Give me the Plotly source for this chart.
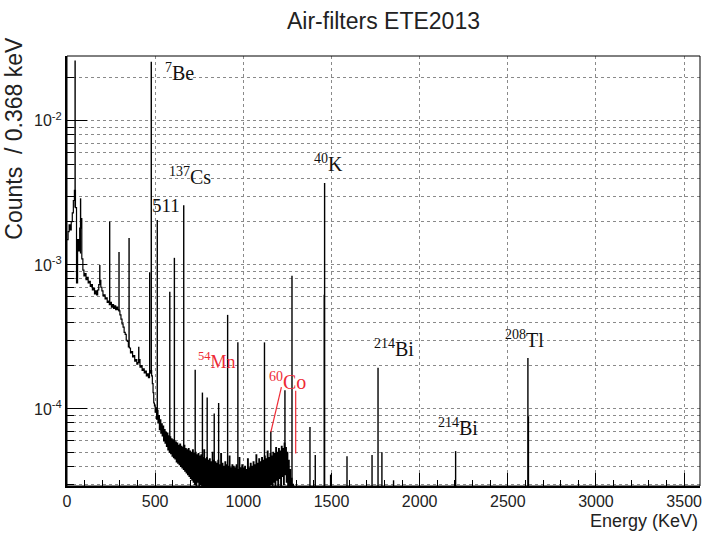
import numpy as np
import plotly.graph_objects as go

# ---------------- data ----------------
# continuum below 480 keV, one value every 6 keV (counts / 0.368 keV)
low_energy = list(range(0, 480, 6))
low_counts = [
    1.5e-3, 1.7e-3, 1.9e-3, 1.75e-3, 2.0e-3, 2.3e-3, 2.8e-3, 3.3e-3, 2.5e-3, 7.5e-4,
    1.5e-3, 1.25e-3, 1.8e-3, 2.1e-3, 1.1e-3, 9.2e-4, 8.4e-4, 8.7e-4, 7.9e-4, 8.2e-4,
    7.5e-4, 7.7e-4, 7.1e-4, 7.3e-4, 6.7e-4, 6.9e-4, 6.3e-4, 6.6e-4, 6.2e-4, 6.7e-4,
    7.3e-4, 7.8e-4, 7.0e-4, 6.6e-4, 6.1e-4, 6.2e-4, 5.8e-4, 5.9e-4, 5.5e-4, 5.6e-4,
    5.3e-4, 5.5e-4, 5.1e-4, 5.3e-4, 5.0e-4, 5.2e-4, 4.9e-4, 5.1e-4, 4.9e-4, 4.8e-4,
    4.5e-4, 4.2e-4, 3.9e-4, 3.7e-4, 3.4e-4, 3.3e-4, 3.0e-4, 2.95e-4, 2.7e-4, 2.65e-4,
    2.45e-4, 2.5e-4, 2.3e-4, 2.35e-4, 2.15e-4, 2.2e-4, 2.05e-4, 2.1e-4, 2.2e-4, 1.95e-4,
    2.0e-4, 1.85e-4, 1.9e-4, 1.78e-4, 1.83e-4, 1.7e-4, 1.75e-4, 1.65e-4, 1.78e-4, 1.85e-4,
]
# noisy continuum 480-1320 keV, one value every 4 keV, in units of 1e-5
mid_energy = list(range(480, 1320, 4))
mid_counts_e5 = [
    17, 15, 13, 11, 10.5, 9.5, 10.2, 8.5, 9.8, 8.0,
    9.0, 7.2, 8.4, 6.8, 7.9, 6.5, 7.6, 6.0, 7.2, 5.8,
    6.9, 5.5, 6.8, 5.2, 6.5, 5.0, 6.4, 4.9, 6.2, 4.7,
    6.1, 4.6, 6.0, 4.5, 5.9, 4.3, 5.8, 4.2, 5.6, 4.1,
    5.7, 4.0, 5.5, 3.9, 5.4, 3.8, 5.6, 3.7, 5.3, 3.6,
    5.2, 3.5, 5.3, 3.4, 5.1, 3.3, 5.0, 3.2, 5.2, 3.1,
    4.9, 3.0, 5.0, 2.8, 4.8, 3.1, 4.9, 2.6, 4.7, 3.0,
    4.8, 2.5, 4.6, 2.9, 5.2, 2.4, 4.5, 2.8, 4.6, 2.3,
    4.4, 2.7, 4.5, 2.2, 4.3, 2.6, 5.0, 2.1, 4.4, 2.5,
    4.3, 2.0, 4.2, 2.6, 4.4, 2.0, 4.1, 2.4, 4.9, 1.9,
    4.2, 2.5, 4.0, 1.8, 4.3, 2.3, 4.1, 1.9, 4.0, 2.4,
    4.7, 1.8, 3.9, 2.3, 4.1, 1.7, 4.0, 2.2, 3.9, 1.8,
    4.1, 2.3, 3.8, 1.7, 4.6, 2.2, 3.9, 1.6, 4.1, 2.2,
    3.9, 1.8, 4.0, 2.3, 3.8, 1.7, 4.5, 2.2, 3.9, 1.9,
    4.2, 2.4, 4.0, 1.9, 4.3, 2.5, 4.1, 2.0, 4.8, 2.6,
    4.2, 2.1, 4.5, 2.6, 4.3, 2.2, 4.6, 2.7, 4.4, 2.3,
    4.7, 2.8, 4.5, 2.4, 5.1, 2.9, 4.6, 2.5, 4.9, 3.0,
    4.7, 2.6, 5.0, 3.1, 4.9, 2.7, 5.4, 3.2, 5.0, 2.8,
    5.3, 3.3, 5.1, 2.9, 5.5, 3.4, 5.3, 3.0, 5.8, 3.5,
    5.4, 3.1, 5.0, 2.9, 4.4, 2.6, 3.8, 2.3, 3.3, 2.0,
    3.0, 1.8, 2.8, 1.5, 2.6, 1.2, 2.4, 1.0, 0.8, 0.5,
]
# above 1320 keV the continuum is below the plotted range
tail_energy = [1320, 3590]
tail_counts = [1e-6, 1e-6]

# gamma lines: energy (keV), top of the line, level it rises from
peak_energy = [46, 77, 186, 242, 295, 352, 407, 469, 478, 512,
               583, 609, 662, 727, 768, 795, 835, 860, 911, 969,
               1120, 1156, 1236, 1276, 1378, 1408, 1459, 1461, 1495, 1588,
               1730, 1764, 1786, 1852, 2204, 2614, 2617]
peak_top = [2.62e-2, 2.9e-3, 1.0e-3, 2.0e-3, 1.23e-3, 1.54e-3, 2.7e-4, 8.9e-4, 2.57e-2, 2.05e-3,
            6.5e-4, 1.12e-3, 2.6e-3, 1.87e-4, 1.3e-4, 1.2e-4, 9.3e-5, 1.1e-4, 4.5e-4, 2.9e-4,
            2.9e-4, 7.0e-5, 1.35e-4, 8.4e-4, 7.5e-5, 4.8e-5, 6.2e-4, 3.7e-3, 3.5e-5, 4.7e-5,
            4.8e-5, 1.93e-4, 5.0e-5, 3.2e-5, 5.1e-5, 2.26e-4, 8.9e-5]
peak_base = [2.5e-3, 1.2e-3, 7.5e-4, 5.4e-4, 4.8e-4, 2.7e-4, 2.1e-4, 1.75e-4, 1.8e-4, 9.0e-5,
             5.5e-5, 5.0e-5, 4.5e-5, 4.0e-5, 4.0e-5, 4.0e-5, 3.5e-5, 3.5e-5, 3.5e-5, 3.5e-5,
             3.5e-5, 3.5e-5, 4.0e-5, 3.0e-5, 1e-6, 1e-6, 1e-6, 1e-6, 1e-6, 1e-6,
             1e-6, 1e-6, 1e-6, 1e-6, 1e-6, 1e-6, 1e-6]

# isotope labels: text, energy of left edge, count level of centre, colour, size
label_text = ["<sup>7</sup>Be", "<sup>137</sup>Cs", "511", "<sup>40</sup>K",
              "<sup>214</sup>Bi", "<sup>214</sup>Bi", "<sup>208</sup>Tl",
              "<sup>54</sup>Mn", "<sup>60</sup>Co"]
label_energy = [542, 565, 469, 1389, 1728, 2095, 2473, 734, 1135]
label_count = [2.19e-2, 4.15e-3, 2.57e-3, 5.1e-3, 2.65e-4, 7.5e-5, 3.06e-4, 2.16e-4, 1.56e-4]
label_color = ["#111", "#111", "#111", "#111", "#111", "#111", "#111", "#ee2a35", "#ee2a35"]
label_size = [20, 20, 19, 20, 20, 20, 20, 18, 20]

# red pointer lines for 60Co (energy, counts)
co_pointer_energy = [1216, 1156]
co_pointer_count = [1.42e-4, 6.9e-5]
co_marker_energy = [1297, 1297]
co_marker_count = [1.34e-4, 4.9e-5]

x_range = [0, 3590]
y_range = [2.92e-5, 2.82e-2]

# ---------------- figure ----------------
energy = low_energy + mid_energy + tail_energy
counts = low_counts + [v * 1e-5 for v in mid_counts_e5] + tail_counts

fig = go.Figure()
fig.add_trace(go.Scatter(x=energy, y=counts, mode="lines",
                         line=dict(color="black", width=1.2, shape="hv"),
                         hoverinfo="skip"))

px_, py_ = [], []
for e, t, b in zip(peak_energy, peak_top, peak_base):
    px_ += [e, e, None]
    py_ += [b, t, None]
fig.add_trace(go.Scatter(x=px_, y=py_, mode="lines",
                         line=dict(color="black", width=1.4), hoverinfo="skip"))

for xs, ys in ((co_pointer_energy, co_pointer_count), (co_marker_energy, co_marker_count)):
    fig.add_trace(go.Scatter(x=xs, y=ys, mode="lines",
                             line=dict(color="#ee2a35", width=1.2), hoverinfo="skip"))

# dummy trace to carry the long decade ticks axis
fig.add_trace(go.Scatter(x=[], y=[], yaxis="y2", hoverinfo="skip"))

lo, hi = np.log10(y_range[0]), np.log10(y_range[1])
minor_vals, minor_text = [], []
for k in range(int(np.floor(lo)), int(np.ceil(hi)) + 1):
    for m in range(1, 10):
        v = m * 10.0 ** k
        if y_range[0] <= v <= y_range[1]:
            minor_vals.append(v)
            minor_text.append(f"10<sup>{k}</sup>" if m == 1 else "")
decades = [v for v, t in zip(minor_vals, minor_text) if t]

tick_font = dict(family="Liberation Sans, Arial, sans-serif", size=16, color="#222")
grid = dict(showgrid=True, gridcolor="#8a8a8a", griddash="dot", gridwidth=1)

fig.update_layout(
    width=711, height=533,
    margin=dict(l=67, r=9, t=56, b=47),
    paper_bgcolor="white", plot_bgcolor="white",
    showlegend=False,
    title=dict(text="Air-filters ETE2013", x=0.5, xref="paper", xanchor="center",
               y=1 - 21 / 533, yref="container", yanchor="middle",
               font=dict(family="Liberation Sans, Arial, sans-serif", size=23, color="#222")),
    xaxis=dict(range=x_range, tick0=0, dtick=500, ticks="inside", ticklen=13,
               tickcolor="black", tickwidth=1, tickfont=tick_font,
               showline=True, linecolor="black", linewidth=2, zeroline=False,
               minor=dict(dtick=100, ticks="inside", ticklen=6, tickcolor="black",
                          showgrid=False),
               **grid),
    yaxis=dict(type="log", range=[lo, hi], tickmode="array", tickvals=minor_vals,
               ticktext=minor_text, ticks="inside", ticklen=7, tickcolor="black",
               tickwidth=1, tickfont=tick_font, showline=True, linecolor="black",
               linewidth=2, zeroline=False, **grid),
    yaxis2=dict(type="log", range=[lo, hi], overlaying="y", side="left", anchor="x",
                tickmode="array", tickvals=decades, ticktext=[""] * len(decades),
                ticks="inside", ticklen=20, tickcolor="black", tickwidth=1,
                showgrid=False, showline=False, zeroline=False),
)

fig.add_shape(type="rect", xref="paper", yref="paper", x0=0, y0=0, x1=1, y1=1,
              line=dict(color="black", width=1), layer="above")

for t, e, c, col, s in zip(label_text, label_energy, label_count, label_color, label_size):
    fig.add_annotation(text=t, x=e, y=np.log10(c), xref="x", yref="y",
                       xanchor="left", yanchor="middle", showarrow=False,
                       font=dict(family="Liberation Serif, Times New Roman, serif",
                                 size=s, color=col))

fig.add_annotation(text="Counts  / 0.368 keV", textangle=-90, xref="paper", yref="paper",
                   x=(13 - 67) / 635, y=(486 - 35) / 430, xanchor="center", yanchor="top",
                   showarrow=False,
                   font=dict(family="Liberation Sans, Arial, sans-serif", size=23, color="#222"))
fig.add_annotation(text="Energy (KeV)", xref="paper", yref="paper",
                   x=1, y=(486 - 521) / 430, xanchor="right", yanchor="middle",
                   showarrow=False,
                   font=dict(family="Liberation Sans, Arial, sans-serif", size=18, color="#222"))

fig.write_html("out.html")
